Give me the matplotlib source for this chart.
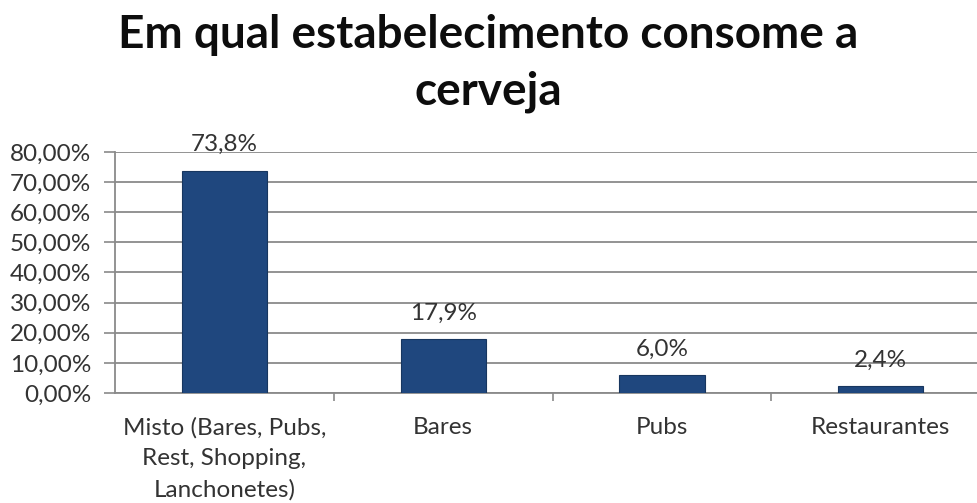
import matplotlib.pyplot as plt
import numpy as np

# Local de consumo da cerveja
categorias = ['Misto (Bares, Pubs,\nRest, Shopping,\nLanchonetes)', 'Bares', 'Pubs', 'Restaurantes']
valores = [73.8, 17.9, 6.0, 2.4]
rotulos = ['73,8%', '17,9%', '6,0%', '2,4%']
ticks_y = [0, 10, 20, 30, 40, 50, 60, 70, 80]
titulo = ['Em qual estabelecimento consome a', 'cerveja']

plt.rcParams['font.family'] = ['Lato', 'DejaVu Sans']
cor_texto = '#333333'
cor_grade = '#8a8a8a'

fig = plt.figure(figsize=(9.77, 5.03), dpi=100)
ax = fig.add_axes([0.1177, 0.2187, 0.8823, 0.4793])

x = np.arange(len(categorias))
barras = ax.bar(x, valores, width=0.39, color='#1f477e', edgecolor='#17365f',
                linewidth=0.8, zorder=3)

for b, r in zip(barras, rotulos):
    ax.annotate(r, (b.get_x() + b.get_width() / 2, b.get_height()),
                xytext=(0, 11), textcoords='offset points',
                ha='center', va='bottom', fontsize=17.5, color=cor_texto)

ax.set_ylim(0, 80)
ax.set_xlim(-0.5, 3.44)
ax.set_yticks(ticks_y)
ax.set_yticklabels(['%d,00%%' % t for t in ticks_y], fontsize=17.5, color=cor_texto)
ax.yaxis.grid(True, color=cor_grade, linewidth=1.3, zorder=0)
ax.tick_params(axis='y', length=8, color=cor_grade, width=1.2, pad=9)

ax.set_xticks(x)
ax.set_xticklabels(categorias, fontsize=17.5, color=cor_texto, linespacing=1.58)
ax.set_xticks(np.arange(0.5, 3.5, 1), minor=True)
ax.tick_params(axis='x', which='major', length=0, pad=17)
ax.tick_params(axis='x', which='minor', length=6, color=cor_grade, width=1.2)

for lado in ['top', 'right']:
    ax.spines[lado].set_visible(False)
for lado in ['left', 'bottom']:
    ax.spines[lado].set_color(cor_grade)
    ax.spines[lado].set_linewidth(1.3)

# titulo em duas linhas, posicionadas pela linha de base
for linha, y in zip(titulo, [0.9046, 0.7913]):
    fig.text(0.5, y, linha, ha='center', va='baseline', fontsize=33,
             fontweight='bold', color='#0d0d0d')

fig.savefig('out.png', dpi=100, facecolor='white')
